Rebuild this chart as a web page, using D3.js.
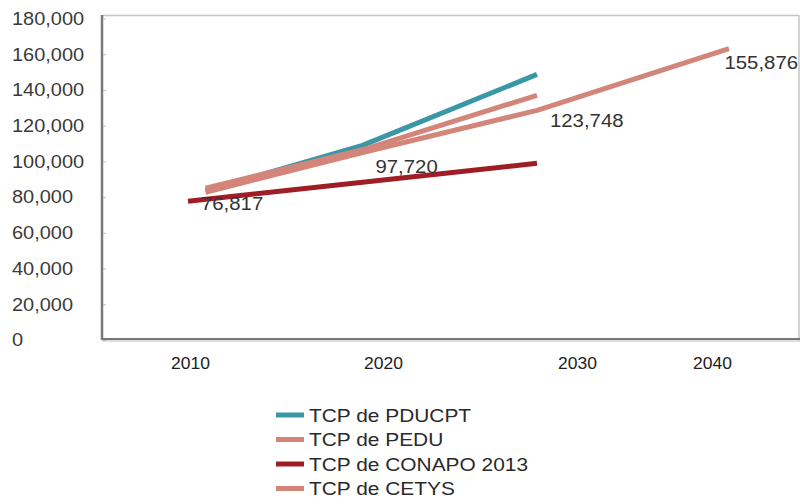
<!DOCTYPE html>
<html><head><meta charset="utf-8">
<script src="https://cdn.jsdelivr.net/npm/d3@7/dist/d3.min.js"></script>
<style>body{margin:0;background:#fff;} svg{display:block;font-family:"Liberation Sans",Arial,sans-serif;}</style>
</head><body>
<svg id="c" width="801" height="504"></svg>
<script>
// ---- data ----
const yearTicks = [2010, 2020, 2030, 2040];
const yTicks = [0, 20000, 40000, 60000, 80000, 100000, 120000, 140000, 160000, 180000];
const pducptYears = [2011, 2020, 2030];
const pducptValues = [83500, 109000, 148700];
const peduYears = [2011, 2020, 2030];
const peduValues = [85000, 106500, 137000];
const conapoYears = [2010, 2020, 2030];
const conapoValues = [77700, 88300, 98900];
const cetysYears = [2011, 2020, 2030, 2041];
const cetysValues = [82700, 105000, 128600, 163200];
const labelYears = [2010, 2020, 2030, 2040];
const labelValues = [76817, 97720, 123748, 155876];
const seriesNames = ["TCP de PDUCPT", "TCP de PEDU", "TCP de CONAPO 2013", "TCP de CETYS"];
const seriesColors = ["#3a97a8", "#d4857a", "#a11d26", "#d4857a"];

const svg = d3.select("#c");
svg.append("rect").attr("width", 801).attr("height", 504).attr("fill", "#fff");

const y = d3.scaleLinear().domain([0, 180000]).range([340, 18.5]);
const xLine = d3.scaleLinear().domain([2010, 2030]).range([188, 537]);
const xTick = d3.scaleLinear().domain(yearTicks).range([190, 383, 577, 712]);
const fmt = d3.format(",");

// place text at (x,y) with a horizontal stretch
function place(sel, fx, fy, sx) {
  sel.attr("transform", (d, i) => `translate(${fx(d, i)},${fy(d, i)}) scale(${sx},1)`);
}

// frame
svg.append("line").attr("x1", 102).attr("x2", 799).attr("y1", 15.5).attr("y2", 15.5).attr("stroke", "#c4c4c4").attr("stroke-width", 1.5);
svg.append("line").attr("x1", 799).attr("x2", 799).attr("y1", 15).attr("y2", 339).attr("stroke", "#c4c4c4").attr("stroke-width", 1.5);
svg.append("line").attr("x1", 102).attr("x2", 800).attr("y1", 341).attr("y2", 341).attr("stroke", "#ddd").attr("stroke-width", 2);
svg.append("line").attr("x1", 102).attr("x2", 800).attr("y1", 339).attr("y2", 339).attr("stroke", "#777").attr("stroke-width", 2);
svg.append("line").attr("x1", 102).attr("x2", 102).attr("y1", 15).attr("y2", 340).attr("stroke", "#7a7a7a").attr("stroke-width", 2.5);

// y axis
const yAxis = svg.append("g").attr("transform", "translate(103,0)")
  .call(d3.axisRight(y).tickValues(yTicks).tickSize(3).tickFormat(""));
yAxis.select(".domain").remove();
yAxis.selectAll("line").attr("stroke", "#bbb");
svg.append("g").selectAll("text").data(yTicks).join("text")
  .attr("dy", "0.36em")
  .attr("font-size", 17.5).attr("fill", "#3a3a3a")
  .call(place, () => 12, d => y(d), 1.14)
  .text(d => fmt(d));

// x axis
const xAxis = svg.append("g").attr("transform", "translate(0,363)")
  .call(d3.axisBottom(xTick).tickValues(yearTicks).tickSize(0).tickPadding(0).tickFormat(d3.format("d")));
xAxis.select(".domain").remove();
xAxis.selectAll("text").attr("font-size", 16.5).attr("fill", "#222").attr("dy", "0.36em")
  .attr("font-family", "'Liberation Sans',Arial,sans-serif")
  .attr("transform", "scale(1.06,1)").attr("x", d => 0);

// lines
const line = d3.line().x(d => xLine(d[0])).y(d => y(d[1]));
const series = [
  d3.zip(pducptYears, pducptValues),
  d3.zip(peduYears, peduValues),
  d3.zip(conapoYears, conapoValues),
  d3.zip(cetysYears, cetysValues)
];
svg.append("g").selectAll("path").data(series).join("path")
  .attr("d", line).attr("fill", "none")
  .attr("stroke", (d, i) => seriesColors[i]).attr("stroke-width", 5)
  .attr("stroke-linejoin", "round");

// data labels
svg.append("g").selectAll("text").data(d3.zip(labelYears, labelValues)).join("text")
  .attr("dy", "0.36em")
  .attr("font-size", 18.5).attr("fill", "#333")
  .call(place, d => xLine(d[0]) + 13, d => y(d[1]) + 1, 1.1)
  .text(d => fmt(d[1]));

// legend
const lg = svg.append("g");
seriesNames.forEach((name, i) => {
  const ly = 415 + 24.5 * i;
  lg.append("line").attr("x1", 276).attr("x2", 304).attr("y1", ly).attr("y2", ly)
    .attr("stroke", seriesColors[i]).attr("stroke-width", 5);
  lg.append("text").attr("dy", "0.36em")
    .attr("transform", `translate(309,${ly}) scale(1.13,1)`)
    .attr("font-size", 18.5).attr("fill", "#2a2a2a").text(name);
});
</script>
</body></html>
